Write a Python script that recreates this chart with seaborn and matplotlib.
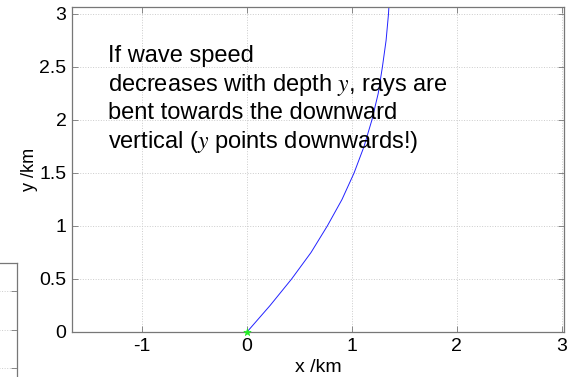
import matplotlib
matplotlib.use("Agg")
import matplotlib.pyplot as plt
import seaborn as sns
import pandas as pd

# ray path (x /km, y /km, y downwards)
ray_y = [0, 0.25, 0.5, 0.75, 1.0, 1.25, 1.5, 1.75, 2.0, 2.25, 2.5, 2.75, 3.0, 3.07]
ray_x = [0, 0.22, 0.425, 0.61, 0.765, 0.905, 1.02, 1.115, 1.19, 1.25, 1.29, 1.325, 1.348, 1.352]
src_x = [0]
src_y = [0]

xticks = [-1, 0, 1, 2, 3]
yticks = [0, 0.5, 1, 1.5, 2, 2.5, 3]
note = ["If wave speed",
        "decreases with depth $y$, rays are",
        "bent towards the downward",
        "vertical ($y$ points downwards!)"]

sns.set_style("ticks")
plt.rcParams['font.family'] = ['Liberation Sans', 'DejaVu Sans']
plt.rcParams['mathtext.fontset'] = 'stix'
plt.rcParams['text.color'] = 'black'
plt.rcParams['axes.labelcolor'] = 'black'
plt.rcParams['xtick.labelcolor'] = 'black'
plt.rcParams['ytick.labelcolor'] = 'black'

ray_df = pd.DataFrame({'x': ray_x, 'y': ray_y})

fig = plt.figure(figsize=(5.73, 3.77), dpi=100)
ax = fig.add_axes([72/573, 45/377, 492/573, 325/377])

sns.lineplot(data=ray_df, x='x', y='y', sort=False, color='#2222ff', lw=0.7, ax=ax)
sns.scatterplot(x=src_x, y=src_y, marker='*', color='#22ee22', s=30, edgecolor='#22ee22',
                linewidth=0.5, ax=ax, zorder=5, clip_on=False)

ax.set_xlim(-1.667, 3.02)
ax.set_ylim(0, 3.066)
ax.set_xticks(xticks)
ax.set_yticks(yticks)
ax.set_xticklabels([str(t) for t in xticks], fontsize=14)
ax.set_yticklabels(['0', '0.5', '1', '1.5', '2', '2.5', '3'], fontsize=14)
ax.tick_params(direction='in', length=4, width=0.6, color='#777777',
               top=True, right=True, pad=4)
ax.grid(True, linestyle=':', color='#cccccc', lw=0.7)
for s in ax.spines.values():
    s.set_visible(True)
    s.set_color('#777777')
    s.set_linewidth(0.9)
ax.set_xlabel('x /km', fontsize=14, labelpad=3)
ax.set_ylabel('y /km', fontsize=13, labelpad=1)

for i, line in enumerate(note):
    ax.text(-1.324, 2.547 - i * 0.27, line, fontsize=17, va='baseline', ha='left')

# piece of a neighbouring panel, cut off at the left edge
ax2 = fig.add_axes([-0.1, -0.13, 0.1 + 17/573, 163/377])
ax2.set_xlim(0, 1)
ax2.set_ylim(-1.5, 2.73)
ax2.set_yticks([0, 1, 2])
ax2.set_xticks([])
ax2.yaxis.tick_right()
ax2.set_yticklabels([])
ax2.tick_params(direction='in', length=4, width=0.6, color='#777777')
ax2.grid(True, axis='y', linestyle=':', color='#cccccc', lw=0.7)
for s in ax2.spines.values():
    s.set_visible(True)
    s.set_color('#777777')
    s.set_linewidth(0.9)

fig.savefig('out.png', dpi=100)
